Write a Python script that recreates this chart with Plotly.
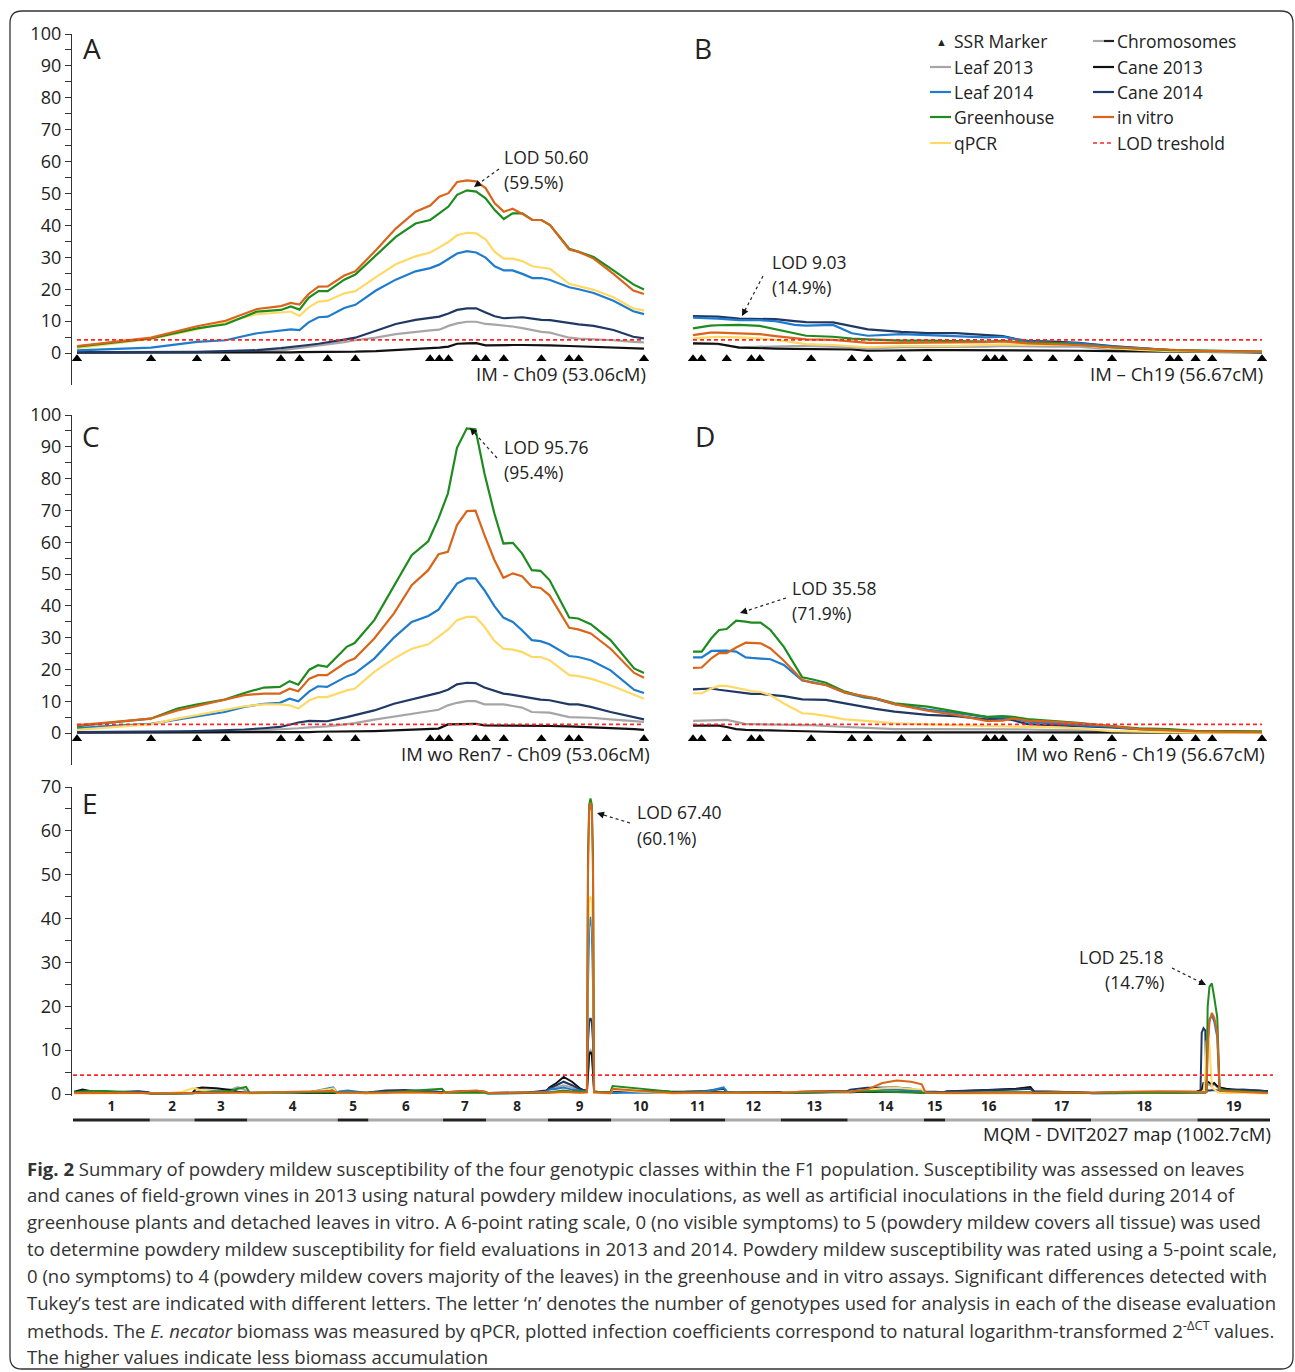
import plotly.graph_objects as go

W, H = 1295, 1372

# ---------------- styling of series ----------------
series_order = ["Leaf 2013", "Cane 2013", "Cane 2014", "Leaf 2014", "qPCR", "Greenhouse", "in vitro"]
colors = {"Leaf 2013": "#A6A6A6", "Cane 2013": "#111111", "Cane 2014": "#1F3864",
          "Leaf 2014": "#1F7BCC", "qPCR": "#FFD966", "Greenhouse": "#1E8B1E",
          "in vitro": "#D9651B"}
lod_color = "#FF2626"

# ---------------- SSR markers (cM) ----------------
ch09_markers = [0, 6.93, 11.23, 13.90, 19.08, 20.83, 23.46, 26.05, 33.05, 33.90, 34.76,
                37.35, 38.24, 39.94, 43.46, 46.06, 46.95, 53.06]
ch19_markers = [0, 0.84, 3.36, 5.81, 6.65, 11.77, 15.82, 17.43, 20.75, 23.35, 29.23, 30.07,
                30.87, 33.36, 35.84, 38.40, 41.73, 47.50, 48.34, 50.06, 51.71, 56.67]

# ---------------- Panel A : IM - Ch09 ----------------
a_cm = [0, 6.93, 11.23, 13.90, 16.86, 19.08, 20.01, 20.82, 21.67, 22.60, 23.46, 25.01, 26.05,
        27.97, 29.83, 31.68, 33.05, 33.90, 34.76, 35.57, 36.50, 37.35, 38.24, 39.09, 39.94,
        40.76, 41.68, 42.61, 43.46, 44.27, 46.06, 46.95, 48.35, 50.20, 52.06, 53.06]
a_invitro = [2.2, 4.8, 8.4, 10.1, 13.8, 14.7, 15.7, 15.2, 18.5, 20.8, 20.9, 24.3, 25.6, 32.2, 39.0,
             44.3, 46.2, 49.0, 50.1, 53.6, 54.1, 53.8, 51.7, 46.9, 44.3, 45.2, 43.6, 41.7, 41.7,
             40.1, 32.4, 31.7, 29.6, 24.8, 19.6, 18.5]
a_greenhouse = [2.0, 4.6, 7.7, 9.0, 13.0, 13.5, 14.6, 13.6, 17.3, 19.4, 19.4, 23.0, 24.6, 30.6, 36.4,
                40.6, 41.7, 43.8, 45.9, 49.6, 51.0, 50.6, 48.5, 44.8, 42.0, 43.8, 43.8, 41.7, 41.7,
                40.1, 32.7, 31.7, 30.1, 25.9, 21.5, 19.9]
a_qpcr = [1.5, 4.4, 7.4, 9.6, 12.2, 12.7, 13.0, 11.6, 14.3, 16.1, 16.4, 18.7, 19.4, 23.8, 27.8,
          30.3, 31.5, 33.1, 34.8, 36.9, 37.7, 37.5, 35.6, 31.7, 29.6, 29.6, 28.8, 27.2, 26.9,
          26.4, 21.7, 20.9, 19.8, 17.5, 14.0, 13.3]
a_leaf2014 = [0.8, 1.7, 3.5, 4.0, 6.2, 7.2, 7.4, 7.2, 9.6, 11.2, 11.4, 14.1, 15.1, 19.6, 23.0,
              25.6, 26.6, 27.7, 29.6, 31.2, 31.9, 31.5, 29.9, 27.2, 25.9, 25.9, 24.8, 23.5, 23.5,
              22.9, 20.6, 20.0, 18.8, 16.4, 13.1, 12.2]
a_cane2014 = [0.3, 0.3, 0.3, 0.6, 0.9, 1.5, 1.8, 2.2, 2.5, 2.9, 3.3, 4.2, 4.8, 6.9, 9.1, 10.4,
              10.9, 11.4, 12.4, 13.5, 14.0, 14.0, 12.7, 11.5, 10.9, 11.0, 11.2, 10.8, 10.4, 10.3,
              9.3, 9.0, 8.5, 7.2, 5.1, 4.6]
a_leaf2013 = [0.2, 0.3, 0.3, 0.4, 0.6, 0.8, 1.2, 1.5, 1.9, 2.2, 2.5, 3.4, 4.0, 4.8, 5.9, 6.7,
              7.1, 7.3, 8.5, 9.3, 9.8, 9.8, 9.1, 8.9, 8.7, 8.3, 7.8, 7.2, 6.6, 6.4, 4.8, 4.5,
              4.3, 4.0, 3.5, 3.3]
a_cane2013 = [0.1, 0.1, 0.1, 0.1, 0.1, 0.0, 0.2, 0.3, 0.3, 0.3, 0.3, 0.4, 0.4, 0.6, 0.9, 1.2,
              1.5, 1.7, 2.0, 2.9, 3.0, 3.1, 2.4, 2.5, 2.5, 2.5, 2.5, 2.5, 2.5, 2.4, 2.2, 2.1,
              1.9, 1.7, 1.5, 1.4]

# ---------------- Panel B : IM - Ch19 ----------------
b_cm = [0, 1.72, 2.48, 4.59, 6.65, 8.22, 10.13, 11.27, 13.95, 15.82, 17.42, 20.75, 23.35, 26.18,
        29.23, 30.87, 32.29, 33.36, 35.84, 38.40, 41.73, 44.52, 47.50, 50.06, 52.16, 56.67]
b_cane2014 = [11.6, 11.5, 11.4, 10.8, 10.6, 10.6, 10.0, 9.7, 9.6, 8.3, 7.4, 6.6, 6.2, 6.2, 5.6,
              5.3, 4.3, 3.8, 3.6, 3.2, 2.2, 1.5, 0.9, 0.6, 0.5, 0.3]
b_leaf2014 = [11.1, 11.0, 10.8, 10.3, 10.3, 10.0, 8.8, 8.6, 8.8, 6.2, 5.4, 5.9, 5.6, 5.3, 4.9,
              5.1, 4.2, 3.6, 3.2, 3.0, 2.0, 1.4, 0.9, 0.6, 0.5, 0.3]
b_greenhouse = [7.7, 8.6, 8.7, 8.8, 8.5, 7.4, 6.0, 5.4, 5.1, 4.5, 4.3, 3.9, 3.9, 3.8, 3.6, 3.8,
                3.5, 3.2, 3.2, 2.5, 1.8, 1.4, 0.9, 0.8, 0.7, 0.4]
b_invitro = [5.6, 6.4, 6.4, 6.2, 5.9, 5.3, 4.6, 4.3, 4.1, 3.6, 3.2, 3.2, 3.2, 3.2, 3.4, 3.6, 3.3,
             3.0, 2.8, 2.5, 1.8, 1.4, 0.9, 0.7, 0.6, 0.4]
b_qpcr = [4.6, 5.1, 5.1, 4.9, 4.6, 4.1, 3.2, 2.8, 2.5, 2.2, 1.8, 2.2, 2.2, 2.2, 2.5, 2.7, 2.6,
          2.5, 2.5, 2.5, 1.5, 1.0, 0.6, 0.5, 0.4, 0.4]
b_leaf2013 = [3.0, 2.9, 2.8, 1.8, 2.0, 2.1, 2.2, 2.2, 2.0, 1.8, 1.4, 1.8, 1.8, 1.8, 2.0, 2.2,
              2.1, 2.1, 2.0, 2.0, 1.1, 0.8, 0.6, 0.5, 0.4, 0.3]
b_cane2013 = [3.0, 2.9, 2.9, 1.7, 1.4, 1.4, 1.3, 1.3, 1.2, 1.1, 0.7, 0.9, 0.9, 0.9, 0.9, 0.9,
              0.8, 0.8, 0.8, 0.7, 0.6, 0.5, 0.4, 0.3, 0.3, 0.2]

# ---------------- Panel C : IM wo Ren7 - Ch09 ----------------
c_cm = [0, 2.03, 6.89, 9.40, 11.16, 13.82, 15.66, 17.50, 18.98, 19.90, 20.71, 21.74, 22.55,
        23.40, 25.24, 25.98, 27.82, 29.66, 31.32, 32.87, 33.83, 34.71, 35.56, 36.48, 37.29,
        38.13, 39.06, 39.90, 40.79, 41.64, 42.56, 43.37, 44.22, 46.06, 46.90, 48.08, 49.93,
        52.14, 53.06]
c_greenhouse = [2.1, 2.9, 4.5, 7.7, 8.9, 10.5, 12.6, 14.3, 14.5, 16.3, 15.2, 19.9, 21.3, 20.8,
                27.1, 28.3, 35.5, 46.0, 55.9, 60.3, 67.5, 75.3, 89.7, 95.8, 95.5, 81.6, 69.0,
                59.6, 59.8, 56.5, 51.2, 51.0, 48.1, 36.3, 36.0, 34.2, 29.2, 20.3, 18.9]
c_invitro = [2.5, 3.0, 4.5, 7.1, 8.4, 10.5, 11.9, 12.4, 12.4, 13.9, 13.1, 17.1, 18.2, 18.2,
             22.4, 23.4, 29.7, 37.6, 46.5, 51.2, 56.2, 57.0, 65.4, 69.8, 69.9, 62.2, 54.4,
             48.8, 50.2, 49.3, 46.0, 45.6, 43.3, 33.1, 32.6, 31.3, 26.5, 18.9, 17.4]
c_leaf2014 = [1.5, 2.0, 2.9, 4.3, 5.2, 6.6, 8.2, 9.2, 9.5, 10.8, 10.0, 13.1, 14.7, 14.5, 17.8,
              18.7, 23.4, 30.0, 34.9, 36.8, 38.8, 42.8, 47.0, 48.6, 48.6, 44.9, 39.9, 36.3,
              34.9, 32.3, 29.2, 28.9, 27.9, 24.2, 23.9, 22.9, 19.7, 13.6, 12.6]
c_qpcr = [1.0, 1.5, 2.7, 4.5, 5.6, 7.3, 8.4, 9.0, 9.0, 8.7, 7.7, 10.3, 11.3, 11.3, 13.4, 13.9,
          19.2, 23.4, 26.5, 27.9, 30.2, 32.5, 35.5, 36.5, 36.5, 33.4, 29.0, 26.5, 26.2, 25.5,
          23.9, 23.9, 22.9, 18.2, 17.9, 17.1, 15.0, 11.9, 10.8]
c_cane2014 = [0.3, 0.3, 0.4, 0.5, 0.6, 0.8, 1.1, 1.5, 1.9, 2.6, 3.3, 3.8, 3.8, 3.7, 5.0, 5.6,
              7.1, 9.2, 10.6, 11.8, 12.6, 13.6, 15.3, 15.8, 15.7, 14.3, 13.2, 12.4, 12.0, 11.5,
              10.8, 10.5, 10.3, 9.0, 9.0, 8.2, 6.6, 5.0, 4.3]
c_leaf2013 = [0.2, 0.2, 0.2, 0.2, 0.3, 0.3, 0.5, 0.8, 1.0, 1.3, 1.5, 1.8, 2.0, 2.1, 2.8, 3.1,
              4.2, 5.2, 6.1, 6.8, 7.3, 8.7, 9.5, 10.0, 10.0, 9.0, 9.0, 9.0, 8.5, 8.0, 6.6, 6.5,
              6.4, 5.0, 4.9, 4.8, 4.3, 3.8, 3.5]
c_cane2013 = [0.1, 0.1, 0.1, 0.1, 0.1, 0.1, 0.1, 0.1, 0.1, 0.2, 0.3, 0.3, 0.4, 0.4, 0.5, 0.5,
              0.6, 0.8, 1.0, 1.2, 1.4, 2.7, 2.8, 2.9, 2.9, 2.4, 2.4, 2.4, 2.4, 2.4, 2.3, 2.3,
              2.2, 2.1, 2.0, 1.9, 1.7, 1.2, 1.0]

# ---------------- Panel D : IM wo Ren6 - Ch19 ----------------
d_cm = [0, 0.87, 1.83, 2.59, 3.35, 4.30, 5.25, 5.82, 6.73, 7.72, 9.05, 10.88, 11.83, 13.24,
        15.14, 17.04, 18.18, 20.08, 23.35, 26.17, 29.21, 30.85, 31.87, 33.32, 35.79, 38.34,
        41.65, 44.42, 47.39, 49.94, 56.67]
d_greenhouse = [25.6, 25.6, 29.8, 32.4, 32.7, 35.3, 35.0, 34.7, 34.7, 32.4, 27.1, 17.5, 16.9,
                15.8, 13.0, 11.4, 10.9, 9.3, 8.3, 6.7, 5.1, 5.3, 5.1, 4.4, 3.9, 3.2, 2.2, 1.5,
                1.2, 0.7, 0.5]
d_leaf2014 = [23.8, 23.8, 25.8, 25.9, 25.9, 25.6, 23.8, 23.6, 23.5, 23.2, 21.4, 16.5, 16.0,
              15.1, 12.7, 11.2, 10.7, 9.1, 7.4, 6.4, 5.1, 4.9, 4.5, 3.6, 3.0, 2.5, 2.0, 1.2,
              0.7, 0.5, 0.3]
d_invitro = [20.5, 20.6, 23.5, 25.1, 25.1, 26.9, 28.4, 28.4, 28.2, 26.6, 22.7, 16.7, 15.8, 15.1,
             12.7, 11.6, 10.9, 9.1, 7.0, 5.7, 3.8, 3.9, 4.6, 3.9, 3.6, 3.0, 2.2, 1.2, 0.7, 0.5,
             0.2]
d_cane2014 = [13.7, 13.8, 14.0, 13.6, 13.3, 12.8, 12.5, 12.3, 12.3, 12.0, 11.6, 10.6, 10.5,
              10.4, 9.3, 8.1, 7.6, 6.7, 5.7, 5.3, 4.3, 4.6, 4.0, 2.8, 2.5, 2.2, 1.8, 1.2, 0.7,
              0.5, 0.2]
d_qpcr = [12.5, 12.5, 14.0, 14.8, 14.8, 14.2, 13.5, 13.2, 12.9, 11.9, 9.3, 6.2, 6.0, 5.4, 4.3,
          3.9, 3.6, 3.0, 2.8, 2.5, 2.2, 2.0, 1.9, 1.9, 1.8, 1.5, 0.6, 0.4, 0.2, 0.1, 0.0]
d_leaf2013 = [3.8, 3.9, 4.1, 4.1, 4.1, 3.5, 2.8, 2.8, 2.7, 2.6, 2.6, 2.5, 2.5, 2.2, 1.9, 1.6,
              1.4, 1.2, 1.2, 1.2, 1.2, 1.2, 1.2, 1.1, 0.9, 0.8, 0.4, 0.3, 0.2, 0.2, 0.1]
d_cane2013 = [2.3, 2.3, 2.3, 2.3, 1.9, 1.2, 1.0, 0.9, 0.9, 0.8, 0.7, 0.5, 0.4, 0.4, 0.3, 0.2,
              0.2, 0.2, 0.2, 0.2, 0.2, 0.2, 0.2, 0.2, 0.2, 0.2, 0.1, 0.1, 0.1, 0.1, 0.1]

# ---------------- Panel E : MQM - whole map ----------------
chrom_labels = [str(i) for i in range(1, 20)]
chrom_len = [64.4, 37.3, 44.4, 75.6, 25.9, 62.4, 36.3, 51.6, 53.1, 49.0, 46.5, 46.5, 56.0,
             63.8, 18.0, 72.6, 49.4, 89.1, 60.8]

e_cm = [1, 8, 16, 28, 42, 55, 63,
        66, 80, 92, 100,
        103, 108, 120, 132, 138, 145,
        148, 165, 185, 200, 212, 218, 221,
        223, 230, 238, 246,
        249, 262, 278, 292, 304, 309,
        312, 325, 338, 345,
        348, 365, 380, 396,
        399, 405, 411, 418, 425, 430.5, 431.4, 432.4, 433.5, 434.6, 435.6, 436.5, 442, 450,
        452, 456, 470, 485, 499,
        502, 515, 530, 545,
        548, 555, 570, 592,
        595, 610, 630, 648,
        651, 665, 678, 690, 702, 711,
        714, 722, 729,
        732, 750, 770, 790, 802,
        805, 825, 851,
        854, 880, 910, 935, 941,
        943, 944.5, 945.5, 947, 948.5, 949.5, 950.5, 952, 954, 956, 958.5, 960.5, 966, 980, 992, 1001]
e_leaf2013 = [0.3, 0.4, 0.4, 0.3, 0.3, 0.3, 0.2,
              0.1, 0.1, 0.2, 0.3,
              0.5, 0.8, 0.8, 1.0, 1.6, 0.8,
              0.2, 0.2, 0.3, 0.4, 0.5, 0.4, 0.3,
              0.3, 0.3, 0.2, 0.2,
              0.3, 0.4, 0.5, 0.5, 0.6, 0.4,
              0.3, 0.4, 0.4, 0.3,
              0.2, 0.3, 0.3, 0.5,
              1.0, 1.5, 2.0, 1.5, 0.8, 0.5, 6, 9.5, 10, 9.5, 6, 0.5, 0.4, 0.3,
              0.5, 0.6, 0.5, 0.4, 0.3,
              0.3, 0.5, 0.4, 0.3,
              0.3, 0.3, 0.4, 0.3,
              0.3, 0.4, 0.5, 0.3,
              0.4, 0.6, 0.8, 0.8, 0.6, 0.4,
              0.3, 0.3, 0.3,
              0.5, 0.6, 0.8, 1.1, 1.5,
              0.4, 0.3, 0.2,
              0.2, 0.3, 0.4, 0.5, 0.6,
              0.6, 0.8, 1.0, 1.5, 2.0, 2.0, 2.2, 2.0, 1.8, 2.2, 1.5, 1.2, 0.8, 0.6, 0.5, 0.4]
e_cane2013 = [0.5, 1.0, 0.6, 0.4, 0.4, 0.5, 0.3,
              0.1, 0.1, 0.1, 0.2,
              1.2, 1.5, 1.3, 0.9, 0.5, 0.3,
              0.2, 0.2, 0.2, 0.3, 0.3, 0.2, 0.2,
              0.2, 0.2, 0.2, 0.2,
              0.4, 0.6, 0.7, 0.6, 0.5, 0.3,
              0.3, 0.4, 0.4, 0.3,
              0.2, 0.2, 0.3, 0.4,
              1.5, 2.5, 3.9, 2.8, 1.2, 0.5, 5, 9.0, 9.6, 9.0, 5, 0.5, 0.3, 0.3,
              0.3, 0.4, 0.5, 0.6, 0.5,
              0.5, 0.6, 0.5, 0.4,
              0.3, 0.3, 0.4, 0.4,
              0.3, 0.3, 0.4, 0.5,
              0.4, 0.5, 0.5, 0.5, 0.4, 0.3,
              0.3, 0.3, 0.3,
              0.5, 0.7, 0.9, 1.2, 1.6,
              0.6, 0.5, 0.3,
              0.2, 0.3, 0.3, 0.4, 0.5,
              0.6, 0.8, 1.0, 2.5, 2.5, 2.2, 2.8, 2.5, 2.2, 2.5, 1.8, 1.5, 1.2, 0.8, 0.8, 0.6]
e_cane2014 = [0.4, 0.7, 0.6, 0.4, 0.5, 0.6, 0.4,
              0.1, 0.2, 0.2, 0.2,
              0.4, 0.6, 0.5, 0.4, 0.3, 0.2,
              0.2, 0.3, 0.4, 0.5, 0.8, 0.9, 0.4,
              0.3, 0.4, 0.3, 0.2,
              0.4, 0.8, 0.9, 0.7, 0.6, 0.4,
              0.4, 0.6, 0.7, 0.5,
              0.2, 0.3, 0.3, 0.8,
              1.3, 2.0, 2.8, 2.0, 1.0, 0.8, 12, 16.5, 17.3, 16.5, 12, 0.6, 0.4, 0.3,
              0.3, 0.4, 0.5, 0.6, 0.5,
              0.3, 0.5, 0.7, 1.2,
              0.4, 0.3, 0.3, 0.3,
              0.3, 0.5, 0.7, 0.6,
              1.0, 1.4, 1.5, 1.5, 1.2, 0.8,
              0.5, 0.5, 0.4,
              0.6, 0.8, 0.9, 1.0, 1.2,
              0.5, 0.4, 0.3,
              0.3, 0.4, 0.5, 0.5, 0.4,
              0.5, 0.8, 14, 15, 14.5, 1.0, 0.8, 0.8, 0.9, 0.9, 0.8, 0.8, 0.9, 1.0, 0.8, 0.6]
e_leaf2014 = [0.2, 0.3, 0.3, 0.3, 0.2, 0.3, 0.2,
              0.1, 0.1, 0.2, 0.2,
              0.2, 0.3, 0.3, 0.3, 0.3, 0.2,
              0.2, 0.2, 0.3, 0.5, 1.2, 1.5, 0.4,
              0.6, 0.8, 0.5, 0.3,
              0.2, 0.3, 0.4, 0.3, 0.3, 0.2,
              0.2, 0.3, 0.3, 0.2,
              0.1, 0.2, 0.2, 0.5,
              1.0, 1.2, 1.5, 1.0, 0.7, 0.5, 25, 38, 40.4, 38, 25, 0.4, 0.3, 0.2,
              0.2, 0.3, 0.3, 0.3, 0.2,
              0.2, 0.3, 0.5, 1.5,
              0.5, 0.3, 0.2, 0.2,
              0.2, 0.3, 0.4, 0.4,
              0.6, 0.9, 1.0, 1.0, 0.8, 0.5,
              0.3, 0.3, 0.2,
              0.2, 0.3, 0.3, 0.3, 0.3,
              0.2, 0.2, 0.2,
              0.1, 0.2, 0.2, 0.3, 0.3,
              0.3, 0.3, 0.3, 0.3, 0.4, 0.6, 12, 17, 18, 16.5, 13, 0.5, 0.4, 0.4, 0.3, 0.2]
e_greenhouse = [0.4, 0.6, 0.7, 0.7, 0.5, 0.4, 0.3,
                0.1, 0.1, 0.1, 0.1,
                0.3, 0.4, 0.5, 0.7, 1.2, 1.6,
                0.3, 0.3, 0.3, 0.3, 0.4, 0.4, 0.3,
                0.3, 0.3, 0.3, 0.3,
                0.3, 0.4, 0.6, 0.8, 1.1, 1.2,
                0.3, 0.3, 0.3, 0.3,
                0.1, 0.1, 0.2, 0.3,
                0.4, 0.6, 0.8, 0.6, 0.5, 0.5, 55, 66, 67.4, 66, 55, 0.6, 0.4, 0.3,
                1.8, 1.7, 1.2, 0.9, 0.6,
                0.4, 0.4, 0.3, 0.3,
                0.3, 0.3, 0.3, 0.3,
                0.2, 0.3, 0.4, 0.4,
                0.5, 0.6, 0.5, 0.5, 0.4, 0.3,
                0.3, 0.3, 0.2,
                0.3, 0.3, 0.4, 0.4, 0.4,
                0.2, 0.3, 0.2,
                0.2, 0.3, 0.3, 0.2, 0.3,
                0.3, 0.3, 0.3, 0.3, 0.3, 0.5, 20, 24.5, 25.2, 22, 17.5, 1.2, 0.8, 0.6, 0.5, 0.3]
e_invitro = [0.2, 0.3, 0.3, 0.2, 0.3, 0.3, 0.2,
             0.1, 0.1, 0.2, 0.3,
             0.4, 0.3, 0.3, 0.3, 0.2, 0.2,
             0.3, 0.4, 0.5, 0.6, 0.8, 0.7, 0.3,
             0.3, 0.3, 0.3, 0.2,
             0.2, 0.3, 0.4, 0.4, 0.3, 0.2,
             0.4, 0.6, 0.8, 0.5,
             0.2, 0.3, 0.4, 0.4,
             0.3, 0.4, 0.5, 0.4, 0.3, 0.4, 50, 64.5, 66.5, 64.5, 50, 0.4, 0.3, 0.2,
             1.2, 1.1, 0.8, 0.5, 0.3,
             0.2, 0.3, 0.3, 0.2,
             0.2, 0.2, 0.3, 0.3,
             0.3, 0.5, 0.6, 0.5,
             0.5, 1.0, 2.5, 3.1, 2.8, 2.2,
             0.4, 0.3, 0.3,
             0.2, 0.3, 0.3, 0.3, 0.3,
             0.3, 0.4, 0.3,
             0.3, 0.5, 0.6, 0.5, 0.5,
             0.4, 0.4, 0.4, 0.4, 0.4, 0.4, 10, 16.5, 18.5, 17.5, 14, 0.8, 0.6, 0.4, 0.3, 0.2]
e_qpcr = [0.1, 0.1, 0.1, 0.1, 0.1, 0.1, 0.1,
          0.1, 0.2, 0.5, 1.3,
          1.2, 0.8, 0.4, 0.3, 0.2, 0.1,
          0.1, 0.2, 0.3, 0.5, 1.0, 1.3, 0.3,
          0.2, 0.3, 0.2, 0.1,
          0.1, 0.2, 0.2, 0.2, 0.2, 0.1,
          0.1, 0.2, 0.2, 0.1,
          0.1, 0.1, 0.1, 0.2,
          0.2, 0.3, 0.4, 0.3, 0.2, 0.3, 35, 44, 45, 44, 35, 0.3, 0.2, 0.1,
          1.0, 0.9, 0.6, 0.4, 0.2,
          0.1, 0.2, 0.2, 0.1,
          0.1, 0.1, 0.2, 0.2,
          0.3, 0.5, 0.5, 0.3,
          0.5, 1.0, 1.3, 1.4, 1.2, 1.0,
          0.3, 0.2, 0.2,
          0.1, 0.1, 0.1, 0.1, 0.1,
          0.1, 0.1, 0.1,
          0.1, 0.2, 0.3, 0.6, 0.5,
          0.4, 0.4, 0.5, 0.5, 4, 12, 12.8, 11, 1.5, 1.0, 0.5, 0.3, 0.2, 0.2, 0.1, 0.1]

lod_thr = {"A": 4.1, "B": 4.1, "C": 2.7, "D": 2.7, "E": 4.3}

panels = {
    "A": (a_cm, {"Leaf 2013": a_leaf2013, "Cane 2013": a_cane2013, "Cane 2014": a_cane2014,
                 "Leaf 2014": a_leaf2014, "qPCR": a_qpcr, "Greenhouse": a_greenhouse,
                 "in vitro": a_invitro}),
    "B": (b_cm, {"Leaf 2013": b_leaf2013, "Cane 2013": b_cane2013, "Cane 2014": b_cane2014,
                 "Leaf 2014": b_leaf2014, "qPCR": b_qpcr, "Greenhouse": b_greenhouse,
                 "in vitro": b_invitro}),
    "C": (c_cm, {"Leaf 2013": c_leaf2013, "Cane 2013": c_cane2013, "Cane 2014": c_cane2014,
                 "Leaf 2014": c_leaf2014, "qPCR": c_qpcr, "Greenhouse": c_greenhouse,
                 "in vitro": c_invitro}),
    "D": (d_cm, {"Leaf 2013": d_leaf2013, "Cane 2013": d_cane2013, "Cane 2014": d_cane2014,
                 "Leaf 2014": d_leaf2014, "qPCR": d_qpcr, "Greenhouse": d_greenhouse,
                 "in vitro": d_invitro}),
    "E": (e_cm, {"Leaf 2013": e_leaf2013, "Cane 2013": e_cane2013, "Cane 2014": e_cane2014,
                 "Leaf 2014": e_leaf2014, "qPCR": e_qpcr, "Greenhouse": e_greenhouse,
                 "in vitro": e_invitro}),
}
for key, (xs, ser) in panels.items():
    for nm, ys in ser.items():
        assert len(xs) == len(ys), (key, nm, len(xs), len(ys))

# ---------------- layout helpers ----------------
def px(x):
    return x / W

def py(y):
    return 1 - y / H

def xdom(p0, p1):
    return [px(p0), px(p1)]

def ydom(top, bottom):
    return [py(bottom), py(top)]

def lin_range(p0, p1, a_px, a_val, b_px, b_val):
    s = (b_px - a_px) / (b_val - a_val)
    return [a_val + (p0 - a_px) / s, a_val + (p1 - a_px) / s]

FONT = "Open Sans"
TXT = "#222222"
axis_ids = {"A": ("x", "y"), "B": ("x2", "y2"), "C": ("x3", "y3"), "D": ("x4", "y4"), "E": ("x5", "y5")}
marker_pos = {"A": ch09_markers, "B": ch19_markers, "C": ch09_markers, "D": ch19_markers}
x_end = {"A": 53.06, "B": 56.67, "C": 53.06, "D": 56.67, "E": sum(chrom_len) + 2.5}

fig = go.Figure()
for key, (xs, ser) in panels.items():
    xa, ya = axis_ids[key]
    lw = 2.2 if key != "E" else 2.0
    for nm in series_order:
        fig.add_trace(go.Scatter(x=xs, y=ser[nm], mode="lines", name=nm, xaxis=xa, yaxis=ya,
                                 line=dict(color=colors[nm], width=lw), showlegend=False,
                                 hoverinfo="skip"))
    fig.add_trace(go.Scatter(x=[0, x_end[key]], y=[lod_thr[key]] * 2, mode="lines", xaxis=xa,
                             yaxis=ya, line=dict(color=lod_color, width=1.6, dash="4px,3px"),
                             showlegend=False, hoverinfo="skip"))
    if key in marker_pos:
        fig.add_trace(go.Scatter(x=marker_pos[key], y=[-1.8] * len(marker_pos[key]),
                                 mode="markers", xaxis=xa, yaxis=ya, cliponaxis=False,
                                 marker=dict(symbol="triangle-up", size=9, color="black"),
                                 showlegend=False, hoverinfo="skip"))

def y_axis_visible(dom, rng, tmax):
    return dict(domain=dom, range=rng, showline=True, linecolor="#333", linewidth=1.3,
                ticks="outside", ticklen=6, tickcolor="#333", tickwidth=1.2, automargin=False,
                tickvals=list(range(0, tmax + 1, 10)), tickfont=dict(family=FONT, size=18, color=TXT),
                showgrid=False, zeroline=False,
                minor=dict(tickvals=list(range(5, tmax, 10)), ticks="outside", ticklen=6,
                           tickcolor="#333", tickwidth=1.2, showgrid=False))

def hidden(dom, rng):
    return dict(domain=dom, range=rng, visible=False, showgrid=False, zeroline=False,
                automargin=False)

yr_ab = lin_range(385, 34, 353, 0, 34, 100)
yr_cd = lin_range(765, 415, 733, 0, 415, 100)
xr_09 = lin_range(72, 650, 77, 0, 644, 53.06)
xr_19 = lin_range(686, 1270, 693, 0, 1262, 56.67)
xr_e = lin_range(72, 1273, 73, 0, 1270, sum(chrom_len))
yr_e = lin_range(1096, 787, 1094, 0, 787, 70)

# chromosome centres for tick labels
starts = []
acc = 0
for L in chrom_len:
    starts.append(acc)
    acc += L
centres = [s + L / 2 for s, L in zip(starts, chrom_len)]

layout = dict(
    width=W, height=H, margin=dict(l=0, r=0, t=0, b=0, pad=0, autoexpand=False),
    paper_bgcolor="white", plot_bgcolor="rgba(0,0,0,0)", showlegend=False,
    font=dict(family=FONT, color=TXT),
    xaxis=dict(hidden(xdom(72, 650), xr_09), anchor="y"),
    yaxis=dict(y_axis_visible(ydom(34, 385), yr_ab, 100), anchor="x"),
    xaxis2=dict(hidden(xdom(686, 1270), xr_19), anchor="y2"),
    yaxis2=dict(hidden(ydom(34, 385), yr_ab), anchor="x2"),
    xaxis3=dict(hidden(xdom(72, 650), xr_09), anchor="y3"),
    yaxis3=dict(y_axis_visible(ydom(415, 765), yr_cd, 100), anchor="x3"),
    xaxis4=dict(hidden(xdom(686, 1270), xr_19), anchor="y4"),
    yaxis4=dict(hidden(ydom(415, 765), yr_cd), anchor="x4"),
    xaxis5=dict(domain=xdom(72, 1273), range=xr_e, anchor="y5", showline=False, showgrid=False,
                zeroline=False, ticks="", tickvals=centres, automargin=False,
                ticktext=["<b>%s</b>" % c for c in chrom_labels],
                tickfont=dict(family=FONT, size=13.5, color=TXT)),
    yaxis5=dict(y_axis_visible(ydom(787, 1096), yr_e, 70), anchor="x5"),
)
fig.update_layout(**layout)

shapes = []
annotations = []

# outer rounded frame
x0f, y0f, x1f, y1f, r = 10, 11, 1293, 1369, 12
path = (f"M {px(x0f + r)} {py(y0f)} L {px(x1f - r)} {py(y0f)} Q {px(x1f)} {py(y0f)} {px(x1f)} {py(y0f + r)} "
        f"L {px(x1f)} {py(y1f - r)} Q {px(x1f)} {py(y1f)} {px(x1f - r)} {py(y1f)} "
        f"L {px(x0f + r)} {py(y1f)} Q {px(x0f)} {py(y1f)} {px(x0f)} {py(y1f - r)} "
        f"L {px(x0f)} {py(y0f + r)} Q {px(x0f)} {py(y0f)} {px(x0f + r)} {py(y0f)} Z")
shapes.append(dict(type="path", xref="paper", yref="paper", path=path,
                   line=dict(color="#333", width=1.3)))

# chromosome bars
for i, (s, L) in enumerate(zip(starts, chrom_len)):
    shapes.append(dict(type="line", xref="x5", yref="paper", x0=s, x1=s + L, y0=py(1120), y1=py(1120),
                       line=dict(color="#222" if i % 2 == 0 else "#A8A8A8", width=3)))

def text(x, y, t, size=17.5, xanchor="left", yanchor="middle", color=TXT):
    annotations.append(dict(xref="paper", yref="paper", x=px(x), y=py(y), text=t, showarrow=False,
                            xanchor=xanchor, yanchor=yanchor,
                            font=dict(family=FONT, size=size, color=color)))

def dashed_arrow(sx, sy, ex, ey):
    dx, dy = sx - ex, sy - ey
    d = (dx * dx + dy * dy) ** 0.5
    ux, uy = dx / d, dy / d
    shapes.append(dict(type="line", xref="paper", yref="paper", x0=px(sx), y0=py(sy),
                       x1=px(ex + ux * 6), y1=py(ey + uy * 6),
                       line=dict(color="#222", width=1.2, dash="3px,3px")))
    annotations.append(dict(xref="paper", yref="paper", x=px(ex), y=py(ey), text="", showarrow=True,
                            ax=ux * 9, ay=uy * 9, arrowhead=2, arrowsize=1, arrowwidth=1.4,
                            arrowcolor="#111"))

# panel letters
for lab, (x, y) in {"A": (92, 48), "B": (703, 48), "C": (91, 436), "D": (705, 436), "E": (90, 803)}.items():
    text(x, y, lab, size=28, xanchor="center")

# axis titles
text(648, 373, "IM - Ch09 (53.06cM)", size=18.5, xanchor="right")
text(1265, 373, "IM – Ch19 (56.67cM)", size=18.5, xanchor="right")
text(652, 753, "IM wo Ren7 - Ch09 (53.06cM)", size=18.5, xanchor="right")
text(1267, 753, "IM wo Ren6 - Ch19 (56.67cM)", size=18.5, xanchor="right")
text(1273, 1133, "MQM - DVIT2027 map (1002.7cM)", size=18.5, xanchor="right")

# LOD call-outs
text(502, 157, "LOD 50.60"); text(502, 182, "(59.5%)")
dashed_arrow(499, 169, 474, 187)
text(770, 262, "LOD 9.03"); text(770, 287, "(14.9%)")
dashed_arrow(763, 276, 742, 316)
text(502, 447, "LOD 95.76"); text(502, 472, "(95.4%)")
dashed_arrow(497, 458, 470, 428)
text(790, 588, "LOD 35.58"); text(790, 613, "(71.9%)")
dashed_arrow(786, 598, 740, 613)
text(635, 812, "LOD 67.40"); text(635, 838, "(60.1%)")
dashed_arrow(630, 823, 597, 813)
text(1166, 957, "LOD 25.18", xanchor="right"); text(1166, 982, "(14.7%)", xanchor="right")
dashed_arrow(1172, 968, 1206, 985)

# legend (two columns)
rows = [41, 67, 92, 117, 143]
col1 = ["SSR Marker", "Leaf 2013", "Leaf 2014", "Greenhouse", "qPCR"]
col2 = ["Chromosomes", "Cane 2013", "Cane 2014", "in vitro", "LOD treshold"]
for y, nm in zip(rows, col1):
    if nm == "SSR Marker":
        text(941, y, "▲", size=11, xanchor="center")
    else:
        shapes.append(dict(type="line", xref="paper", yref="paper", x0=px(930), x1=px(951),
                           y0=py(y), y1=py(y), line=dict(color=colors[nm], width=2.2)))
    text(952, y, nm)
for y, nm in zip(rows, col2):
    if nm == "Chromosomes":
        shapes.append(dict(type="line", xref="paper", yref="paper", x0=px(1093), x1=px(1104),
                           y0=py(y), y1=py(y), line=dict(color="#A8A8A8", width=2.2)))
        shapes.append(dict(type="line", xref="paper", yref="paper", x0=px(1104), x1=px(1114),
                           y0=py(y), y1=py(y), line=dict(color="#222", width=2.2)))
    elif nm == "LOD treshold":
        shapes.append(dict(type="line", xref="paper", yref="paper", x0=px(1093), x1=px(1114),
                           y0=py(y), y1=py(y), line=dict(color=lod_color, width=1.6, dash="4px,3px")))
    else:
        shapes.append(dict(type="line", xref="paper", yref="paper", x0=px(1093), x1=px(1114),
                           y0=py(y), y1=py(y), line=dict(color=colors[nm], width=2.2)))
    text(1115, y, nm)

# caption
caption = [
    "<b>Fig. 2</b> Summary of powdery mildew susceptibility of the four genotypic classes within the F1 population. Susceptibility was assessed on leaves",
    "and canes of field-grown vines in 2013 using natural powdery mildew inoculations, as well as artificial inoculations in the field during 2014 of",
    "greenhouse plants and detached leaves in vitro. A 6-point rating scale, 0 (no visible symptoms) to 5 (powdery mildew covers all tissue) was used",
    "to determine powdery mildew susceptibility for field evaluations in 2013 and 2014. Powdery mildew susceptibility was rated using a 5-point scale,",
    "0 (no symptoms) to 4 (powdery mildew covers majority of the leaves) in the greenhouse and in vitro assays. Significant differences detected with",
    "Tukey’s test are indicated with different letters. The letter ‘n’ denotes the number of genotypes used for analysis in each of the disease evaluation",
    "methods. The <i>E. necator</i> biomass was measured by qPCR, plotted infection coefficients correspond to natural logarithm-transformed 2<sup>-ΔCT</sup> values.",
    "The higher values indicate less biomass accumulation",
]
for i, line in enumerate(caption):
    text(25, 1168 + i * 26.9, line, size=18.55, color="#333")

fig.update_layout(shapes=shapes, annotations=annotations)
fig.write_html("out.html", config={"displayModeBar": False},
               post_script="document.body.style.margin='0px';")
